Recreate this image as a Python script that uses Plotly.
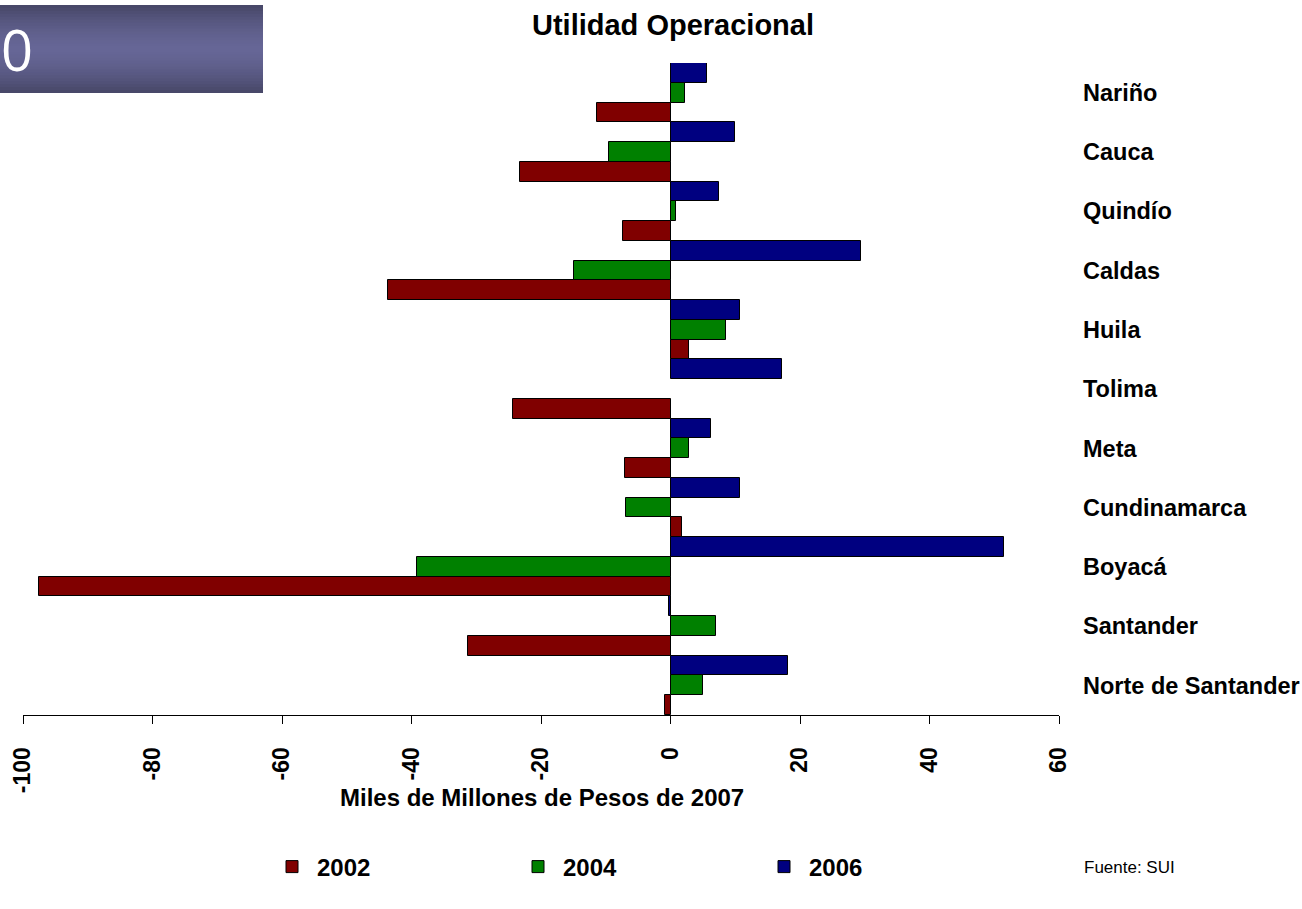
import plotly.graph_objects as go

# Departamentos (de abajo hacia arriba) y utilidad operacional por año
departamentos = ["Norte de Santander", "Santander", "Boyacá", "Cundinamarca", "Meta",
                 "Tolima", "Huila", "Caldas", "Quindío", "Cauca", "Nariño"]
util_2002 = [-0.8, -31.3, -97.6, 1.8, -7.0, -24.3, 2.9, -43.7, -7.4, -23.2, -11.4]
util_2004 = [5.0, 7.0, -39.2, -6.8, 2.9, None, 8.6, -14.9, 0.9, -9.5, 2.3]
util_2006 = [18.1, -0.3, 51.5, 10.8, 6.2, 17.2, 10.8, 29.4, 7.5, 10.0, 5.7]

anios = ["2002", "2004", "2006"]
colores = ["#800000", "#008000", "#000080"]
x_ticks = [-100, -80, -60, -40, -20, 0, 20, 40, 60]

W, H = 1302, 909
ML, MR, MT, MB = 23, 243, 63, 194
PW, PH = W - ML - MR, H - MT - MB


def px_x(px):
    return (px - ML) / PW


def px_y(py):
    return 1 - (py - MT) / PH


fig = go.Figure()
for anio, valores, color in zip(anios, [util_2002, util_2004, util_2006], colores):
    fig.add_trace(go.Bar(
        y=departamentos, x=valores, name=anio, orientation="h",
        marker=dict(color=color, line=dict(color="black", width=1)),
    ))

SANS = "Liberation Sans, Arial, sans-serif"

# Banda decorativa con degradado vertical (esquina superior izquierda)
shapes = []
top, bot = 5, 93
n = 30
c_edge = (0x46, 0x46, 0x66)
c_mid = (0x66, 0x66, 0x96)
for i in range(n):
    y0 = top + (bot - top) * i / n
    t = abs((i + 0.5) / n - 0.5) * 2
    t = min(1, t ** 1.6)
    c = tuple(int(round(c_mid[k] + (c_edge[k] - c_mid[k]) * t)) for k in range(3))
    # each strip runs to the bottom edge so the next one covers it without seams
    shapes.append(dict(type="rect", xref="paper", yref="paper",
                       x0=px_x(0), x1=px_x(263), y0=px_y(bot), y1=px_y(y0),
                       fillcolor="rgb(%d,%d,%d)" % c, line=dict(width=0), layer="above"))

fig.update_layout(
    width=W, height=H,
    margin=dict(l=ML, r=MR, t=MT, b=MB, pad=0, autoexpand=False),
    paper_bgcolor="white", plot_bgcolor="white",
    barmode="group", bargap=0, bargroupgap=0,
    title=dict(text="<b>Utilidad Operacional</b>", x=673 / W, xanchor="center",
               xref="container", y=1 - 25 / H, yanchor="middle", yref="container",
               font=dict(family=SANS, size=29, color="black")),
    xaxis=dict(range=[-100, 60], tickvals=x_ticks, ticktext=[str(v) for v in x_ticks],
               tickangle=-90, ticks="outside", ticklen=8, tickcolor="black", tickwidth=1,
               showline=True, linecolor="black", linewidth=1, showgrid=False, zeroline=False,
               tickfont=dict(family=SANS, size=23, color="black", weight="bold"),
               ticklabelstandoff=14, automargin=False),
    yaxis=dict(side="right", showline=False, showgrid=False, zeroline=False, ticks="",
               categoryorder="array", categoryarray=departamentos,
               tickfont=dict(family=SANS, size=23.5, color="black", weight="bold"),
               ticklabelstandoff=23, automargin=False),
    legend=dict(orientation="h", xref="container", yref="container",
                x=267 / W, xanchor="left", y=1 - 867 / H, yanchor="middle",
                itemwidth=40, entrywidth=191, entrywidthmode="pixels", traceorder="normal",
                font=dict(family=SANS, size=24, color="black", weight="bold"),
                bgcolor="rgba(0,0,0,0)"),
    shapes=shapes,
    showlegend=True,
)

fig.add_annotation(text="<b>Miles de Millones de Pesos de 2007</b>", xref="paper", yref="paper",
                   x=px_x(542), y=px_y(797), xanchor="center", yanchor="middle",
                   showarrow=False, font=dict(family=SANS, size=24, color="black"))
fig.add_annotation(text="0", xref="paper", yref="paper", x=px_x(0), y=px_y(49),
                   xanchor="left", yanchor="middle", showarrow=False, borderpad=0,
                   font=dict(family="Open Sans, DejaVu Sans, sans-serif", size=56, color="white"))
fig.add_annotation(text="Fuente: SUI", xref="paper", yref="paper", x=px_x(1082), y=px_y(867),
                   xanchor="left", yanchor="middle", showarrow=False,
                   font=dict(family=SANS, size=17, color="black"))

fig.write_html("out.html")
